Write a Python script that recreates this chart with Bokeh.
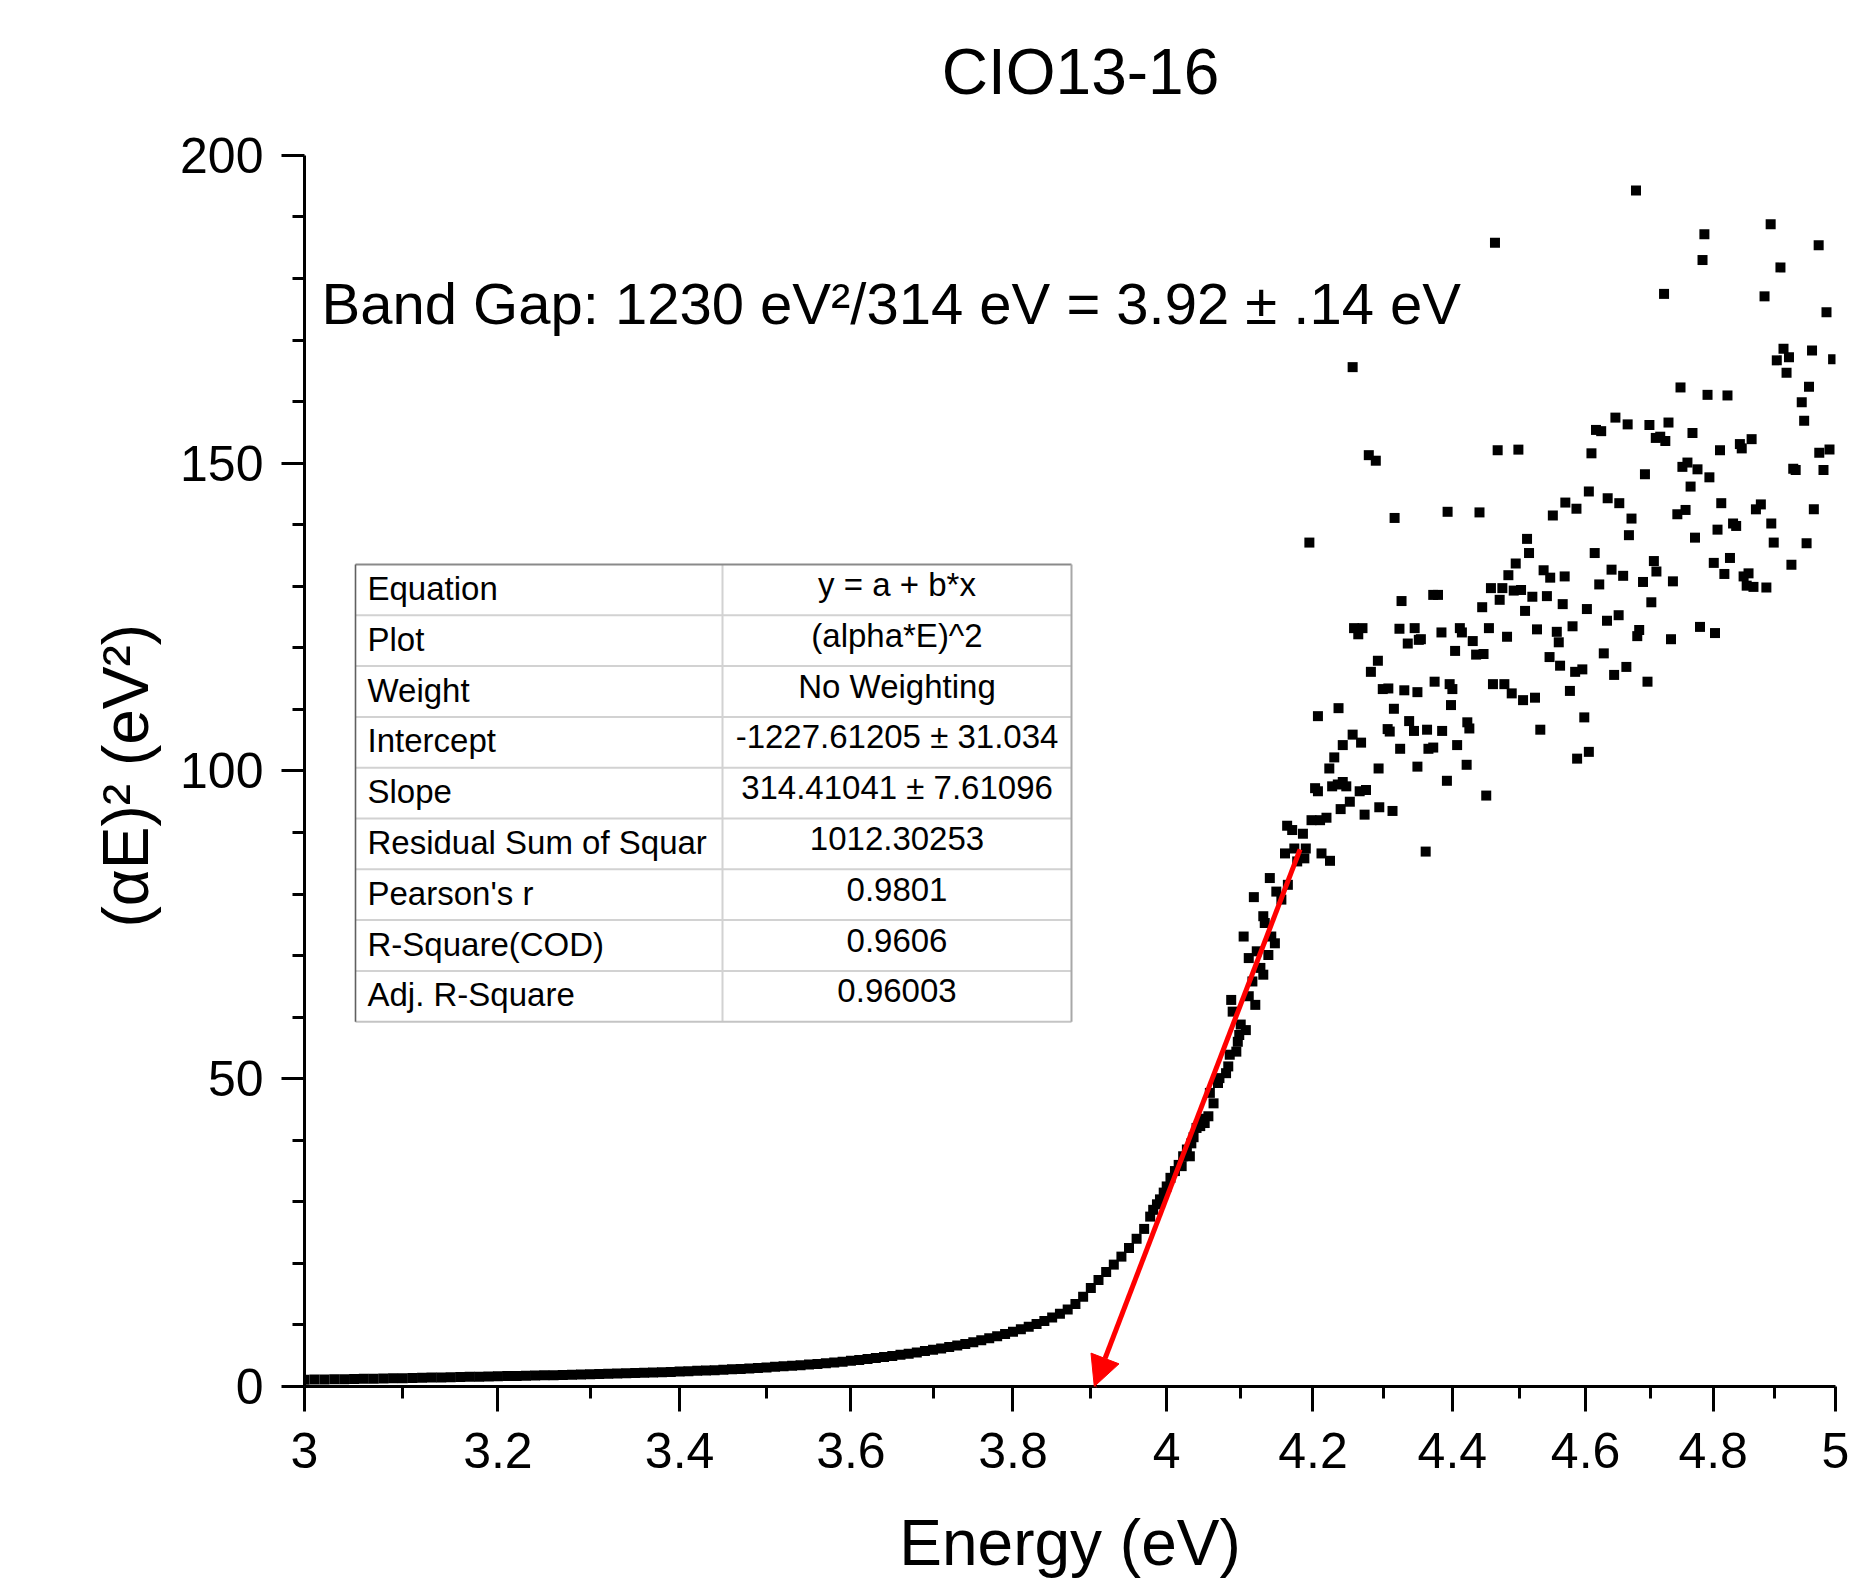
from bokeh.plotting import figure
from bokeh.models import (Range1d, FixedTicker, CustomJSTickFormatter, Label, Title,
                          BoxAnnotation, Arrow, NormalHead, ColumnDataSource)
from bokeh.embed import file_html
from bokeh.resources import INLINE

# ---------------- texts ----------------
TITLE = "CIO13-16"
X_LABEL = "Energy (eV)"
Y_LABEL = "(\u03b1E)\u00b2 (eV\u00b2)"
BAND_GAP_TEXT = "Band Gap: 1230 eV\u00b2/314 eV = 3.92 \u00b1 .14 eV"

# ---------------- ticks ----------------
x_ticks = [3.0, 3.2, 3.4, 3.6, 3.8, 4.0, 4.2, 4.4, 4.6, 4.8, 5.0]
x_minor_ticks = [3.1, 3.3, 3.5, 3.7, 3.9, 4.1, 4.3, 4.5, 4.7, 4.9]
y_ticks = [0, 50, 100, 150, 200]
y_minor_ticks = [10, 20, 30, 40, 60, 70, 80, 90, 110, 120, 130, 140,
                 160, 170, 180, 190]
y_axis_max = 200

# ---------------- fit table ----------------
fit_row_names = ["Equation", "Plot", "Weight", "Intercept", "Slope",
                 "Residual Sum of Squar", "Pearson's r", "R-Square(COD)",
                 "Adj. R-Square"]
fit_row_values = ["y = a + b*x", "(alpha*E)^2", "No Weighting",
                  "-1227.61205 \u00b1 31.034", "314.41041 \u00b1 7.61096",
                  "1012.30253", "0.9801", "0.9606", "0.96003"]
fit_intercept = -1227.61205
fit_slope = 314.41041
fit_x_max = 4.182

# ---------------- data: smooth absorption edge ----------------
edge_energy = [3.00, 3.01, 3.02, 3.03, 3.04, 3.05, 3.06, 3.07, 3.08, 3.09,
               3.10, 3.11, 3.12, 3.13, 3.14, 3.15, 3.16, 3.17, 3.18, 3.19,
               3.20, 3.21, 3.22, 3.23, 3.24, 3.25, 3.26, 3.27, 3.28, 3.29,
               3.30, 3.31, 3.32, 3.33, 3.34, 3.35, 3.36, 3.37, 3.38, 3.39,
               3.40, 3.41, 3.42, 3.43, 3.44, 3.45, 3.46, 3.47, 3.48, 3.49,
               3.50, 3.51, 3.52, 3.53, 3.54, 3.55, 3.56, 3.57, 3.58, 3.59,
               3.60, 3.61, 3.62, 3.63, 3.64, 3.65, 3.66, 3.67, 3.68, 3.69,
               3.70, 3.71, 3.72, 3.73, 3.74, 3.75, 3.76, 3.77, 3.78, 3.79,
               3.80, 3.81, 3.82, 3.83, 3.84, 3.85, 3.86, 3.87, 3.88, 3.89,
               3.90, 3.91, 3.92, 3.93, 3.94, 3.95, 3.96, 3.97]
edge_alpha_e2 = [1.10, 1.12, 1.14, 1.16, 1.19, 1.21, 1.24, 1.27, 1.30, 1.33,
                 1.36, 1.39, 1.42, 1.45, 1.48, 1.51, 1.54, 1.57, 1.60, 1.63,
                 1.66, 1.69, 1.72, 1.75, 1.78, 1.81, 1.84, 1.87, 1.91, 1.95,
                 1.99, 2.03, 2.07, 2.11, 2.15, 2.19, 2.23, 2.27, 2.32, 2.37,
                 2.42, 2.48, 2.54, 2.60, 2.66, 2.72, 2.79, 2.86, 2.94, 3.02,
                 3.10, 3.19, 3.28, 3.37, 3.46, 3.56, 3.67, 3.78, 3.90, 4.03,
                 4.17, 4.31, 4.46, 4.62, 4.79, 4.97, 5.15, 5.34, 5.54, 5.75,
                 5.96, 6.18, 6.40, 6.65, 6.92, 7.20, 7.50, 7.82, 8.16, 8.52,
                 8.90, 9.30, 9.72, 10.17, 10.65, 11.20, 11.80, 12.50, 13.40, 14.60,
                 16.00, 17.30, 18.60, 19.80, 21.10, 22.50, 24.00, 25.60]

# ---------------- data: steep (fitted) part ----------------
steep_energy = [3.978, 3.982, 3.987, 3.991, 3.996, 4.000, 4.005, 4.011, 4.016, 4.020,
                4.022, 4.027, 4.031, 4.033, 4.036, 4.040, 4.045, 4.048, 4.051, 4.056,
                4.058, 4.063, 4.069, 4.071, 4.080, 4.083, 4.085, 4.087, 4.089, 4.094,
                4.096, 4.098, 4.100, 4.104, 4.107, 4.111, 4.111, 4.116, 4.118, 4.120,
                4.122, 4.127, 4.131, 4.131, 4.133, 4.138, 4.140, 4.142, 4.147, 4.149,
                4.156, 4.165]
steep_alpha_e2 = [27.6, 28.7, 29.6, 30.4, 31.5, 32.5, 33.9, 35.0, 36.0, 35.8,
                  37.4, 38.5, 37.4, 39.5, 40.5, 42.0, 42.3, 43.5, 42.8, 43.9,
                  47.7, 46.0, 49.3, 50.1, 50.9, 52.0, 53.9, 62.8, 60.9, 54.4,
                  56.0, 57.1, 58.8, 73.1, 57.9, 63.4, 69.6, 65.8, 79.5, 62.0,
                  70.7, 68.0, 66.9, 76.4, 75.3, 70.1, 82.6, 73.1, 72.0, 80.4,
                  79.1, 81.5]

# ---------------- data: noisy high-energy part (energy, value) ----------------
noisy_low = [
    (4.195, 137.1), (4.326, 127.6), (4.372, 128.6), (4.379, 128.6), (4.258, 123.2),
    (4.270, 123.2), (4.264, 122.2), (4.323, 123.1), (4.345, 123.2), (4.384, 122.5),
    (4.411, 123.2), (4.414, 122.5), (4.335, 120.7), (4.351, 121.3), (4.354, 121.4),
    (4.404, 119.5), (4.292, 117.9), (4.282, 116.1), (4.299, 113.3), (4.307, 113.4),
    (4.330, 113.1), (4.349, 112.8), (4.374, 114.5), (4.396, 114.1), (4.400, 113.3),
    (4.398, 110.7), (4.315, 110.1), (4.236, 110.2), (4.207, 108.9), (4.337, 108.1),
    (4.306, 106.8), (4.309, 106.4), (4.344, 106.5), (4.363, 106.7), (4.385, 106.5),
    (4.422, 107.9), (4.425, 106.9), (4.256, 105.9), (4.268, 104.6), (4.242, 104.2),
    (4.324, 103.6), (4.365, 103.6), (4.372, 103.8), (4.407, 104.2), (4.230, 102.2),
    (4.223, 100.4), (4.293, 100.4), (4.349, 100.7), (4.421, 101.0), (4.392, 98.4),
    (4.203, 97.2), (4.207, 96.7), (4.227, 97.5), (4.235, 97.8), (4.242, 98.2),
    (4.247, 97.5), (4.266, 96.7), (4.275, 96.9), (4.252, 95.0), (4.239, 93.8),
    (4.273, 92.9), (4.294, 94.1), (4.313, 93.5), (4.198, 92.0), (4.210, 92.0),
    (4.219, 92.4), (4.164, 91.1), (4.171, 90.4), (4.186, 89.8), (4.161, 86.6),
    (4.174, 87.4), (4.190, 87.4), (4.188, 85.8), (4.178, 85.3), (4.212, 86.6),
    (4.224, 85.4), (4.361, 86.9),
    (4.256, 165.6), (4.279, 151.3), (4.289, 150.4), (4.316, 141.1), (4.393, 142.1),
]
noisy_mid = [
    (4.678, 194.3), (4.463, 185.8), (4.646, 157.4), (4.616, 155.4), (4.624, 155.2),
    (4.665, 156.3), (4.699, 156.2), (4.709, 154.1), (4.467, 152.1), (4.498, 152.2),
    (4.609, 151.6), (4.692, 148.2), (4.605, 145.4), (4.569, 143.6), (4.586, 142.6),
    (4.634, 144.3), (4.652, 143.5), (4.440, 142.0), (4.550, 141.5), (4.671, 141.0),
    (4.511, 137.7), (4.667, 138.3), (4.514, 135.4), (4.614, 135.4), (4.494, 133.7),
    (4.706, 134.1), (4.710, 132.4), (4.483, 131.8), (4.536, 132.6), (4.546, 131.4),
    (4.568, 131.6), (4.640, 132.7), (4.658, 131.7), (4.689, 130.7), (4.621, 130.3),
    (4.457, 129.7), (4.474, 129.7), (4.491, 129.3), (4.502, 129.4), (4.470, 127.8),
    (4.519, 128.3), (4.541, 128.4), (4.444, 126.6), (4.508, 126.0), (4.565, 127.1),
    (4.602, 126.3), (4.702, 127.4), (4.633, 124.4), (4.651, 125.3), (4.454, 123.2),
    (4.481, 121.8), (4.526, 123.0), (4.556, 122.6), (4.580, 123.5), (4.683, 122.9),
    (4.680, 121.9), (4.430, 121.1), (4.559, 120.9), (4.435, 118.9), (4.446, 119.0),
    (4.545, 118.5), (4.561, 117.1), (4.584, 116.1), (4.595, 116.5), (4.628, 119.1),
    (4.663, 116.9), (4.644, 115.6), (4.696, 114.5), (4.460, 114.1), (4.477, 114.1),
    (4.488, 112.6), (4.505, 111.5), (4.523, 111.9), (4.576, 113.0), (4.598, 108.7),
    (4.531, 106.7), (4.605, 103.1), (4.587, 102.0), (4.450, 96.0),
]
noisy_high = [
    (4.893, 188.8), (4.786, 187.2), (4.972, 185.4), (4.783, 183.0), (4.909, 181.8),
    (4.722, 177.5), (4.883, 177.1), (4.985, 174.5), (4.914, 168.6), (4.923, 167.2),
    (4.903, 166.7), (4.961, 168.3), (4.996, 166.9), (4.919, 164.7), (4.748, 162.3),
    (4.791, 161.1), (4.823, 161.0), (4.956, 162.4), (4.944, 159.9), (4.948, 156.9),
    (4.729, 156.6), (4.767, 154.9), (4.716, 154.3), (4.724, 153.6), (4.811, 152.1),
    (4.843, 153.1), (4.846, 152.4), (4.862, 153.9), (4.973, 151.7), (4.990, 152.2),
    (4.930, 149.1), (4.934, 148.9), (4.980, 148.9), (4.751, 149.4), (4.759, 150.1),
    (4.775, 149.0), (4.794, 147.7), (4.764, 146.2), (4.813, 143.5), (4.869, 142.5),
    (4.877, 143.3), (4.964, 142.5), (4.743, 141.7), (4.756, 142.4),
    (4.832, 140.2), (4.837, 139.8), (4.894, 140.2), (4.807, 139.2), (4.771, 137.9),
    (4.898, 137.1), (4.952, 137.0), (4.827, 134.6), (4.801, 133.8), (4.736, 130.8),
    (4.818, 132.0), (4.849, 131.6), (4.857, 132.1), (4.854, 130.1), (4.865, 129.9),
    (4.886, 129.8), (4.927, 133.5), (4.779, 123.4), (4.803, 122.4), (4.733, 121.4),
]

# ---------------- assemble ----------------
noisy = noisy_low + noisy_mid + noisy_high
energy = edge_energy + steep_energy + [e for e, _ in noisy]
alpha_e2 = edge_alpha_e2 + steep_alpha_e2 + [v for _, v in noisy]
src = ColumnDataSource(dict(x=energy, y=alpha_e2))

FONT = "Liberation Sans"

# layout (pixels): the frame spans from the canvas top down to the energy axis;
# the value axis itself is bounded to 0..200 and starts 155 px below the top.
W, H = 1864, 1581
B_LEFT, B_RIGHT, B_BOTTOM = 304, 29, 194
FRAME_H = H - B_BOTTOM
AXIS_TOP_PX = 155
y_top = y_axis_max * FRAME_H / (FRAME_H - AXIS_TOP_PX)

p = figure(width=W, height=H, x_axis_type="log",
           x_range=Range1d(3, 5), y_range=Range1d(0, y_top),
           output_backend="svg", toolbar_location=None,
           min_border_left=B_LEFT, min_border_right=B_RIGHT,
           min_border_top=0, min_border_bottom=B_BOTTOM)
p.xgrid.visible = False
p.ygrid.visible = False
p.outline_line_color = None
p.background_fill_color = "white"
p.border_fill_color = "white"

for ax in (p.xaxis[0], p.yaxis[0]):
    ax.axis_line_width = 3
    ax.axis_line_color = "black"
    ax.major_tick_line_width = 3
    ax.minor_tick_line_width = 3
    ax.major_tick_line_color = "black"
    ax.minor_tick_line_color = "black"
    ax.major_tick_in = 0
    ax.minor_tick_in = 0
    ax.minor_tick_out = 12
    ax.major_label_text_font = FONT
    ax.major_label_text_font_size = "50px"
    ax.major_label_text_color = "black"
    ax.axis_label_text_font = FONT
    ax.axis_label_text_font_size = "64px"
    ax.axis_label_text_font_style = "normal"
    ax.axis_label_text_color = "black"

xa = p.xaxis[0]
xa.ticker = FixedTicker(ticks=x_ticks, minor_ticks=x_minor_ticks)
xa.formatter = CustomJSTickFormatter(code="return String(Number(tick.toFixed(1)));")
xa.major_tick_out = 25
xa.major_label_standoff = 21
xa.axis_label = X_LABEL
xa.axis_label_standoff = 36

ya = p.yaxis[0]
ya.ticker = FixedTicker(ticks=y_ticks, minor_ticks=y_minor_ticks)
ya.bounds = (0, y_axis_max)
ya.major_tick_out = 23
ya.major_label_standoff = 18

# value-axis title, centred on the bounded 0..200 part of the axis
p.add_layout(Title(text=Y_LABEL, align="left", offset=459, standoff=32,
                   vertical_align="bottom", text_font=FONT, text_font_size="64px",
                   text_font_style="normal", text_color="black"), "left")

# data points
p.scatter("x", "y", source=src, marker="square", size=10,
          fill_color="black", line_color=None)

# fit arrow (fit line down to the energy axis intercept)
x_gap = -fit_intercept / fit_slope
p.add_layout(Arrow(x_start=fit_x_max, y_start=fit_intercept + fit_slope * fit_x_max,
                   x_end=x_gap, y_end=0,
                   line_color="#ff0000", line_width=5,
                   end=NormalHead(size=30, fill_color="#ff0000", line_color="#ff0000")))

# title and band gap text (screen units relative to frame bottom-left)
p.add_layout(Label(x=776, y=FRAME_H - 72, x_units="screen", y_units="screen", text=TITLE,
                   text_font=FONT, text_font_size="64px", text_align="center",
                   text_baseline="middle", text_color="black"))
p.add_layout(Label(x=17, y=FRAME_H - 304, x_units="screen", y_units="screen",
                   text=BAND_GAP_TEXT, text_font=FONT, text_font_size="58px",
                   text_align="left", text_baseline="middle", text_color="black"))

# fit results table
T_LEFT, T_RIGHT, T_DIV, T_TOP, ROW_H = 51, 767, 418, 822, 50.8
n_rows = len(fit_row_names)
T_BOTTOM = T_TOP - n_rows * ROW_H


def hline(y, color, w=2.0, left=T_LEFT, right=T_RIGHT):
    p.add_layout(BoxAnnotation(left=left, right=right, bottom=y - w / 2, top=y + w / 2,
                               left_units="screen", right_units="screen",
                               top_units="screen", bottom_units="screen",
                               fill_color=color, fill_alpha=1.0, line_color=None))


def vline(x, color, w=2.0):
    p.add_layout(BoxAnnotation(left=x - w / 2, right=x + w / 2, bottom=T_BOTTOM, top=T_TOP,
                               left_units="screen", right_units="screen",
                               top_units="screen", bottom_units="screen",
                               fill_color=color, fill_alpha=1.0, line_color=None))


for i in range(1, n_rows):
    hline(T_TOP - i * ROW_H, "#d2d2d2")
vline(T_DIV, "#d2d2d2")
hline(T_TOP, "#8a8a8a")
hline(T_BOTTOM, "#c4c4c4")
vline(T_LEFT, "#606060", 1.6)
vline(T_RIGHT, "#a8a8a8")

for i, (name, val) in enumerate(zip(fit_row_names, fit_row_values)):
    top = T_TOP - i * ROW_H
    p.add_layout(Label(x=T_LEFT + 12, y=top - 24, x_units="screen", y_units="screen",
                       text=name, text_font=FONT, text_font_size="33px",
                       text_align="left", text_baseline="middle", text_color="black"))
    p.add_layout(Label(x=(T_DIV + T_RIGHT) / 2, y=top - 20, x_units="screen", y_units="screen",
                       text=val, text_font=FONT, text_font_size="33px",
                       text_align="center", text_baseline="middle", text_color="black"))

open("out.html", "w").write(file_html(p, INLINE))
